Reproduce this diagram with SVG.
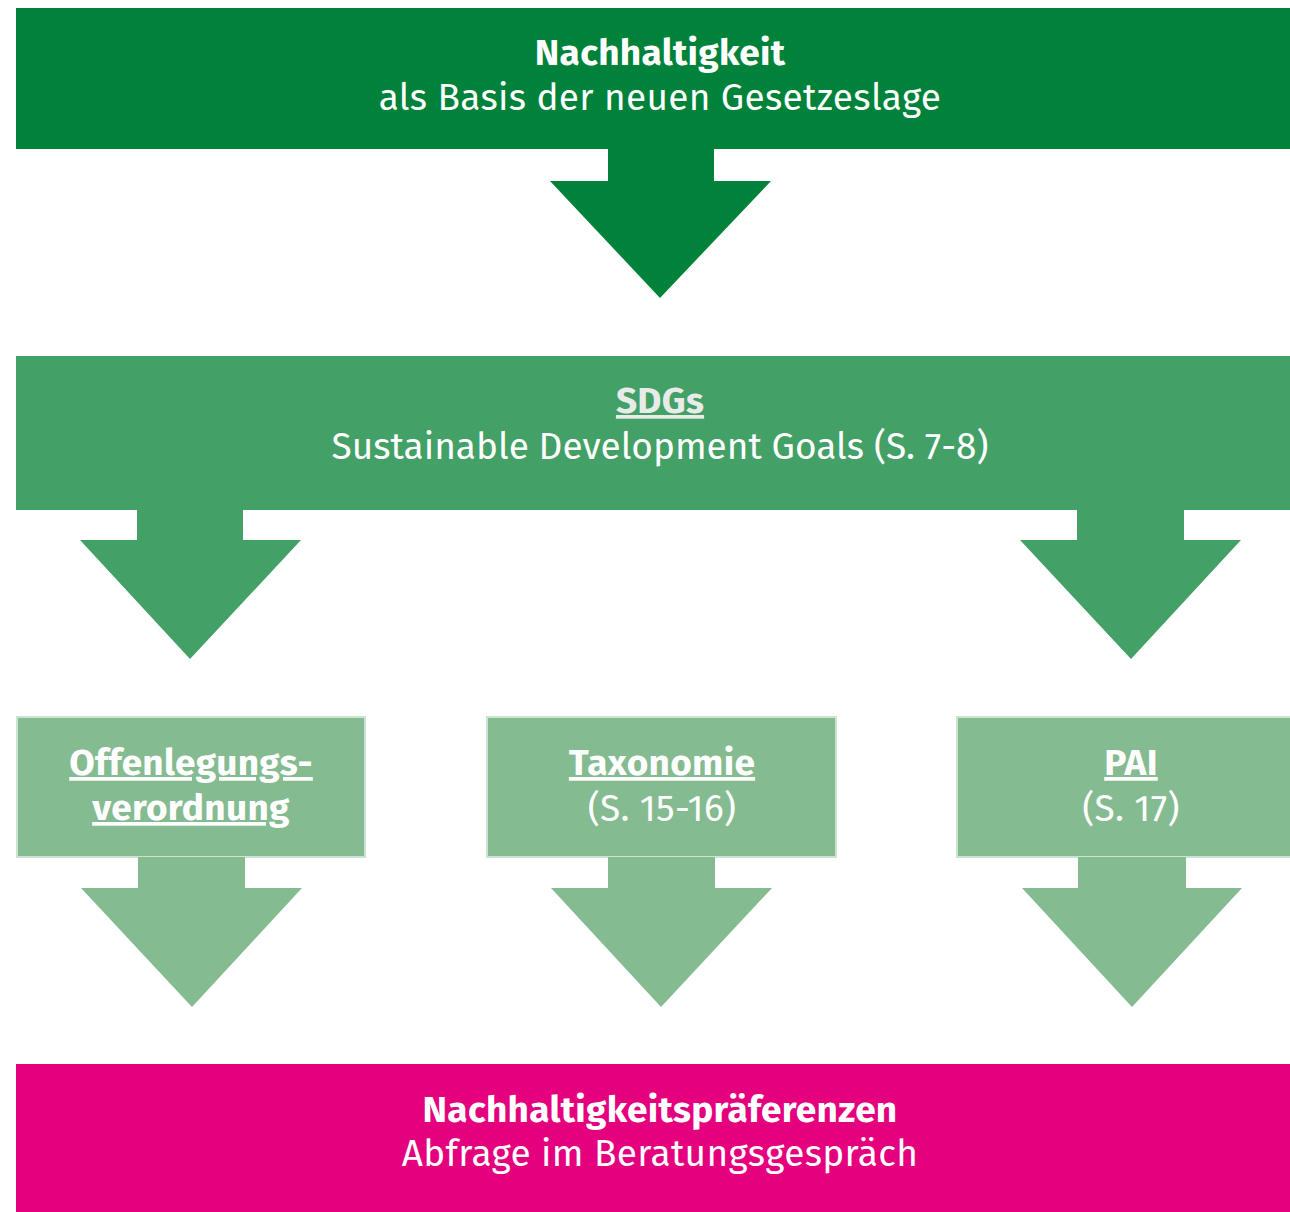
<svg xmlns="http://www.w3.org/2000/svg" width="1290" height="1212" viewBox="0 0 1290 1212">
<style>
.t{font-family:"Fira Sans","Open Sans","Noto Sans",sans-serif;fill:#ffffff;text-anchor:middle;font-size:37px;letter-spacing:0.3px}
.b{font-weight:700}
.r{font-weight:400}
.u{text-decoration:underline}
.dark{fill:#00823a}
.mid{fill:#43a067}
.light{fill:#85bb91}
.lbox{fill:#85bb91;stroke:#cde3d1;stroke-width:2}
.pink{fill:#e5007e}
</style>
<rect width="1290" height="1212" fill="#ffffff"/>
<g id="node-nachhaltigkeit">
<rect class="dark" x="16" y="8" width="1274" height="141"/>
<text class="t b" x="660" y="65">Nachhaltigkeit</text>
<text class="t r" x="660" y="110">als Basis der neuen Gesetzeslage</text>
</g>
<g id="node-sdgs">
<rect class="mid" x="16" y="356" width="1274" height="154"/>
<text class="t b u" x="660" y="413" style="fill:#e8ebe8">SDGs</text>
<text class="t r" x="660" y="459" style="letter-spacing:0">Sustainable Development Goals (S. 7-8)</text>
</g>
<g id="node-offenlegung">
<rect class="lbox" x="17" y="717" width="348" height="140"/>
<text class="t b u" x="191" y="775">Offenlegungs-</text>
<text class="t b u" x="191" y="820">verordnung</text>
</g>
<g id="node-taxonomie">
<rect class="lbox" x="487" y="717" width="349" height="140"/>
<text class="t b u" x="662" y="775">Taxonomie</text>
<text class="t r" x="662" y="821">(S. 15-16)</text>
</g>
<g id="node-pai">
<rect class="lbox" x="957" y="717" width="350" height="140"/>
<text class="t b u" x="1131" y="775">PAI</text>
<text class="t r" x="1131" y="821">(S. 17)</text>
</g>
<g id="node-praeferenzen">
<rect class="pink" x="16" y="1064" width="1274" height="148"/>
<text class="t b" x="660" y="1122">Nachhaltigkeitspräferenzen</text>
<text class="t r" x="660" y="1166">Abfrage im Beratungsgespräch</text>
</g>
<g id="connectors">
<polygon class="dark" points="608,148 714,148 714,181 771,181 660,298 550,181 608,181"/>
<polygon class="mid" points="137,509 243,509 243,540 301,540 190,659 80,540 137,540"/>
<polygon class="mid" points="1077,509 1184,509 1184,540 1241,540 1131,659 1020,540 1077,540"/>
<polygon class="light" points="138,857 245,857 245,888 302,888 192,1007 81,888 138,888"/>
<polygon class="light" points="608,857 715,857 715,888 772,888 661,1007 551,888 608,888"/>
<polygon class="light" points="1078,857 1186,857 1186,888 1242,888 1132,1007 1022,888 1078,888"/>
</g>
</svg>
